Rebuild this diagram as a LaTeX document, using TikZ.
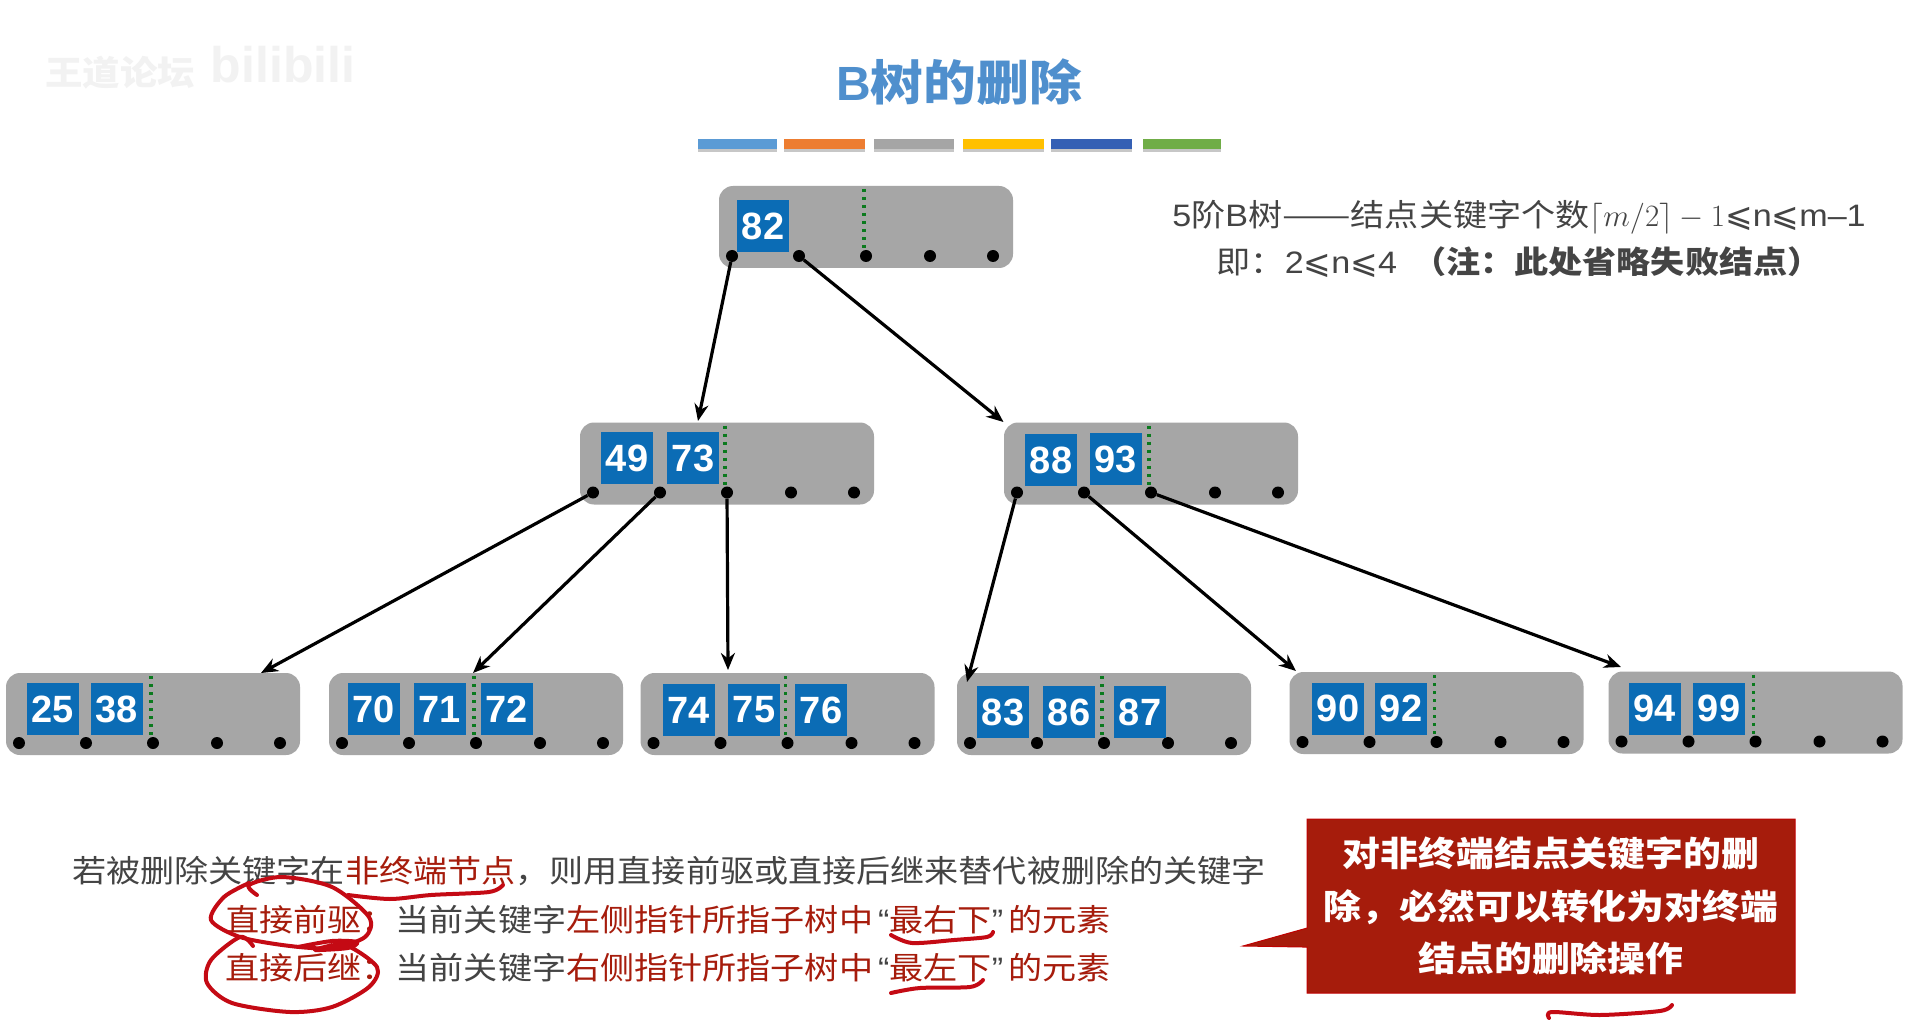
\documentclass[tikz,border=0pt]{standalone}
\usepackage{fix-cm}
\usepackage[no-math]{fontspec}
\setmainfont{Liberation Sans}
\newfontfamily\cjk[FakeStretch=1.1]{Noto Sans CJK SC}
\newfontfamily\latfont[FakeStretch=1.1]{Liberation Sans}
\newfontfamily\symfont{DejaVu Sans}
\usetikzlibrary{arrows.meta,shapes.callouts}
\definecolor{keyblue}{HTML}{0B6CB5}
\definecolor{nodegray}{HTML}{A6A6A6}
\definecolor{textgray}{HTML}{444444}
\definecolor{textred}{HTML}{A61C0C}
\definecolor{titleblue}{HTML}{4F8FCD}
\definecolor{penred}{HTML}{C40A14}
\definecolor{splitgreen}{HTML}{0B7A1E}
\newcommand\lesym{{\symfont\fontsize{33}{33}\selectfont ⩽}}
\newcommand\red[1]{\textcolor{textred}{#1}}
\newcommand\lat[1]{{\latfont #1}}

\begin{document}
\begin{tikzpicture}[x=1pt,y=-1pt,>=Stealth,
    bnode/.style={rectangle,rounded corners=14pt,fill=nodegray,minimum width=294pt,minimum height=82pt,inner sep=0pt},
    bkey/.style={rectangle,fill=keyblue,text=white,minimum size=52pt,inner sep=0pt,font=\fontsize{38}{38}\selectfont\bfseries},
    bptr/.style={circle,fill=black,minimum size=12pt,inner sep=0pt},
    bsplit/.style={splitgreen,line width=3.4pt,dash pattern=on 3.4pt off 4.6pt},
    barrow/.style={-{Stealth[length=17pt,width=14pt]},black,line width=3.2pt},
    bodytext/.style={anchor=west,inner sep=0pt,text=textgray,font=\fontsize{31}{36}\selectfont\cjk},
    notetext/.style={inner sep=0pt,text=textgray,font=\fontsize{31}{36}\selectfont\cjk},
    redpen/.style={penred,line width=4pt,line cap=round,line join=round}]
  \useasboundingbox (0,0) rectangle (1920,1024);
  \fill[white] (0,0) rectangle (1920,1024);

  \node[text=black!5,font=\fontsize{34}{34}\selectfont\cjk\bfseries] (logo) at (120,73) {王道论坛};
  \node[text=black!5,font=\fontsize{50}{50}\selectfont\bfseries] (bili) at (283,65) {bilibili};
  \node[text=titleblue,font=\fontsize{48}{52}\selectfont\cjk\bfseries] (title) at (959,82) {{\rmfamily B}树的删除};

  \foreach \xa/\xb/\c in {698/777/5B9BD5,784/865/ED7D31,874/954/A5A5A5,963/1044/FFC000,1051/1132/3560B4,1143/1221/70AD47}{
    \definecolor{barcolor}{HTML}{\c}
    \fill[black!22] (\xa,142) rectangle (\xb,152);
    \fill[barcolor] (\xa,139) rectangle (\xb,149);
  }

  \foreach \b/\x/\y in {root/866/227,n49/727/463.5,n88/1151/463.5,n25/153/714,n70/476/714,
      n74/787.5/714,n83/1104/714,n90/1436.5/713,n94/1755.5/712.5}{
    \node[bnode] (\b) at (\x,\y) {};
    \draw[bsplit] (\x-2,\y-38) -- (\x-2,\y+22);
    \foreach \i/\d in {1/-134,2/-67,3/0,4/64,5/127}
      \node[bptr] (\b-\i) at (\x+\d,\y+29) {};
  }

  \foreach \t/\x/\y in {82/763/226,49/627/458,73/693/458,88/1051/460,93/1115.5/459,
      25/53/709,38/116.5/709,70/374/709,71/440/709,72/506.5/709,74/688.5/710,75/754/710,76/821/710,
      83/1003/712,86/1069/712,87/1140/712,90/1338/708.5,92/1401/708.5,94/1654.5/708.5,99/1719/708.5}
    \node[bkey] (k\t) at (\x,\y) {\t};

  \coordinate (t49) at (698,421);
  \coordinate (t88) at (1003.5,422);
  \coordinate (t25) at (261,673);
  \coordinate (t70) at (473,673);
  \coordinate (t74) at (728,670);
  \coordinate (t83) at (967,682);
  \coordinate (t90) at (1296,671);
  \coordinate (t94) at (1621,667);
  \draw[barrow] (root-1) -- (t49);
  \draw[barrow] (root-2) -- (t88);
  \draw[barrow] (n49-1) -- (t25);
  \draw[barrow] (n49-2) -- (t70);
  \draw[barrow] (n49-3) -- (t74);
  \draw[barrow] (n88-1) -- (t83);
  \draw[barrow] (n88-2) -- (t90);
  \draw[barrow] (n88-3) -- (t94);

  \node[notetext] (order) at (1519,217) {\lat{5}阶\lat{B}树\scalebox{1.2}[1]{——}结点关键字个数$\lceil m/2\rceil-1$\lesym\lat{n}\lesym\lat{m–1}};
  \node[notetext] (range) at (1519,262) {即：\lat{2}\lesym\lat{n}\lesym\lat{4}\ \ {\bfseries（注：此处省略失败结点）}};

  \node[bodytext] (rule) at (72,871) {若被删除关键字在\red{非终端节点}，则用直接前驱或直接后继来替代被删除的关键字};
  \node[bodytext] (pred) at (225,919.5) {\red{直接前驱：}当前关键字\red{左侧指针所指子树中}\hspace{5pt}\lat{“}\red{最右下}\lat{”}\hspace{5pt}\red{的元素}};
  \node[bodytext] (succ) at (225,967.5) {\red{直接后继：}当前关键字\red{右侧指针所指子树中}\hspace{5pt}\lat{“}\red{最左下}\lat{”}\hspace{5pt}\red{的元素}};

  \node[rectangle callout,callout absolute pointer={(1243,946)},callout pointer width=19pt,
    fill=textred,draw=red!75!black,line width=1pt,minimum width=488pt,minimum height=174pt,
    inner sep=0pt,align=center,text=white,font=\fontsize{34.4}{53}\selectfont\cjk\bfseries] (remark) at (1551,906)
    {\raisebox{-1pt}{对非终端结点关键字的删}\\\raisebox{-1pt}{除，必然可以转化为对终端}\\结点的删除操作};

  \draw[redpen] plot[smooth] coordinates {(348,895) (390,899) (431,895) (489,892) (503,885)};
  \draw[redpen] plot[smooth] coordinates {(257,895) (249,885) (282,877) (332,887) (369,917) (365,937) (332,948) (290,946) (240,937) (211,920) (224,897) (249,883)};
  \draw[redpen] plot[smooth] coordinates {(298,947) (332,941) (357,942) (348,948) (315,950) (345,945) (377,967) (369,987) (332,1007) (290,1012) (232,1003) (207,983) (211,960) (240,937) (253,946)};
  \draw[redpen] plot[smooth] coordinates {(891,935) (912,943) (954,940) (987,937) (993,932)};
  \draw[redpen] plot[smooth] coordinates {(891,993) (920,988) (970,987) (983,980)};
  \draw[redpen] plot[smooth] coordinates {(1549,1018) (1552,1012) (1600,1015) (1660,1011) (1672,1005)};
\end{tikzpicture}
\end{document}
